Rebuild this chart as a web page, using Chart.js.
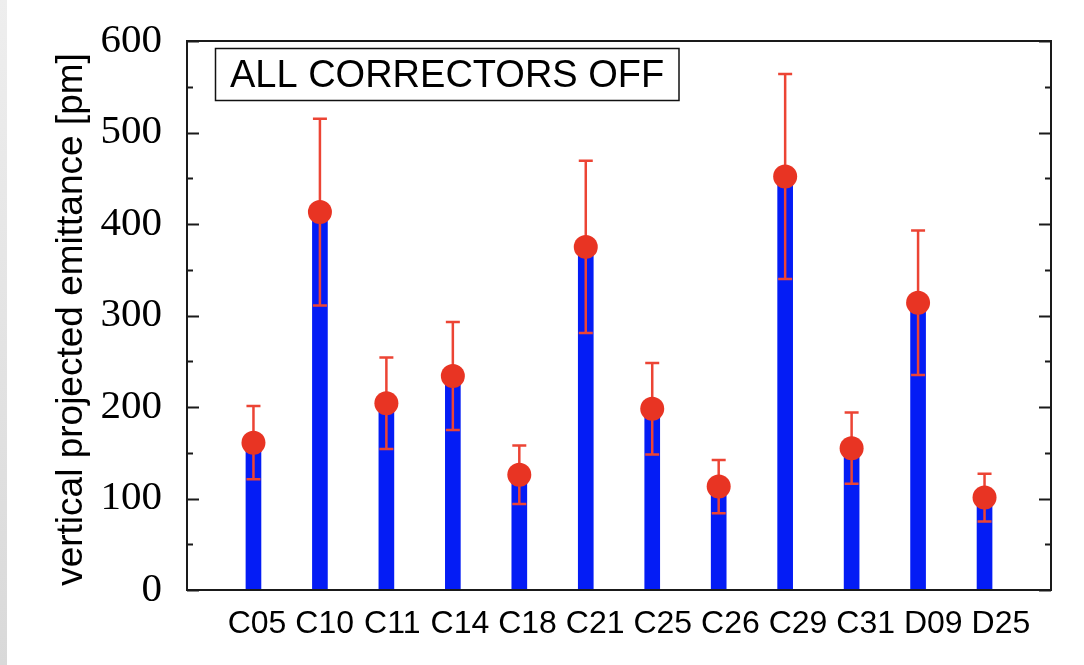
<!DOCTYPE html>
<html>
<head>
<meta charset="utf-8">
<script src="https://cdn.jsdelivr.net/npm/chart.js@4.4.0/dist/chart.umd.min.js"></script>
<style>
  html, body { margin: 0; padding: 0; background: #ffffff; }
  #wrap { position: relative; width: 1084px; height: 665px; overflow: hidden; }
  #edge { position: absolute; left: 0; top: 0; width: 7px; height: 665px;
          background: linear-gradient(#eeeeee, #d9d9d9); }
  canvas { position: absolute; left: 0; top: 0; }
</style>
</head>
<body>
<div id="wrap">
  <div id="edge"></div>
  <canvas id="chart" width="1084" height="665"></canvas>
</div>
<script>
// Monitor locations along the line
const categories = ['C05', 'C10', 'C11', 'C14', 'C18', 'C21', 'C25', 'C26', 'C29', 'C31', 'D09', 'D25'];
// Vertical projected emittance [pm] and its uncertainty
const emittance    = [161, 413, 204, 234, 126, 375, 198, 113, 452, 155, 314, 101];
const emittanceErr = [ 40, 102,  50,  59,  32,  94,  50,  29, 112,  39,  79,  26];
// Y axis ticks
const yTicks = [0, 100, 200, 300, 400, 500, 600];
const yMinorStep = 50;
const yTitle = 'vertical projected emittance [pm]';
const boxLabel = 'ALL CORRECTORS OFF';

const BAR_BLUE = 'rgb(4, 28, 245)';
const POINT_RED = 'rgb(232, 52, 35)';
const ERR_RED = 'rgb(236, 68, 52)';
const FRAME = '#1a1a1a';

const points = categories.map((_, i) => ({ x: i + 1, y: emittance[i] }));

// Error bars, drawn right after the bars so the markers sit on top
const errorBars = {
  id: 'errorBars',
  afterDatasetDraw(chart, args) {
    if (args.index !== 0) return;
    const { ctx } = chart;
    const xs = chart.scales.x, ys = chart.scales.y;
    ctx.save();
    ctx.strokeStyle = ERR_RED;
    ctx.lineWidth = 2.5;
    const cap = 7;
    categories.forEach((_, i) => {
      const px = xs.getPixelForValue(i + 1);
      const top = ys.getPixelForValue(emittance[i] + emittanceErr[i]);
      const bot = ys.getPixelForValue(emittance[i] - emittanceErr[i]);
      ctx.beginPath();
      ctx.moveTo(px, top); ctx.lineTo(px, bot);
      ctx.moveTo(px - cap, top); ctx.lineTo(px + cap, top);
      ctx.moveTo(px - cap, bot); ctx.lineTo(px + cap, bot);
      ctx.stroke();
    });
    ctx.restore();
  }
};

// Closed frame with inward ticks on the left and right sides
const frame = {
  id: 'frame',
  afterDatasetsDraw(chart) {
    const { ctx, chartArea: a } = chart;
    const ys = chart.scales.y;
    ctx.save();
    ctx.strokeStyle = FRAME;
    ctx.lineWidth = 2;
    ctx.strokeRect(a.left, a.top, a.right - a.left, a.bottom - a.top);
    ctx.beginPath();
    for (let v = ys.min; v <= ys.max; v += yMinorStep) {
      const py = Math.round(ys.getPixelForValue(v)) + 0.5;
      const len = (v % 100 === 0) ? 12 : 6;
      ctx.moveTo(a.left, py); ctx.lineTo(a.left + len, py);
      ctx.moveTo(a.right, py); ctx.lineTo(a.right - len, py);
    }
    ctx.stroke();
    ctx.restore();
  }
};

// Axis title and the boxed caption
const labels = {
  id: 'labels',
  afterDraw(chart) {
    const { ctx, chartArea: a } = chart;
    ctx.save();
    ctx.fillStyle = '#000';
    ctx.translate(82, (a.top + a.bottom) / 2 + 4);
    ctx.rotate(-Math.PI / 2);
    ctx.font = '37px "Liberation Sans", Arial, sans-serif';
    ctx.textAlign = 'center';
    ctx.textBaseline = 'alphabetic';
    ctx.fillText(yTitle, 0, 0);
    ctx.restore();

    ctx.save();
    ctx.strokeStyle = '#111';
    ctx.lineWidth = 1.5;
    ctx.strokeRect(215.5, 48.5, 463.5, 52);
    ctx.fillStyle = '#000';
    ctx.font = '38px "Liberation Sans", Arial, sans-serif';
    ctx.textAlign = 'left';
    ctx.textBaseline = 'alphabetic';
    ctx.fillText(boxLabel, 230, 86.5);
    ctx.restore();
  }
};

new Chart(document.getElementById('chart'), {
  type: 'bar',
  data: {
    datasets: [
      {
        type: 'bar',
        data: points,
        xAxisID: 'x',
        yAxisID: 'y',
        backgroundColor: BAR_BLUE,
        borderWidth: 0,
        barThickness: 15,
        order: 2
      },
      {
        type: 'scatter',
        data: points,
        xAxisID: 'x',
        yAxisID: 'y',
        pointRadius: 12,
        pointBackgroundColor: POINT_RED,
        pointBorderWidth: 0,
        showLine: false,
        order: 1
      }
    ]
  },
  options: {
    responsive: false,
    devicePixelRatio: 1,
    animation: false,
    layout: { padding: { top: 41, right: 33, bottom: 0, left: 0 } },
    plugins: { legend: { display: false }, tooltip: { enabled: false } },
    scales: {
      x: { type: 'linear', min: 0, max: 13, offset: false, display: false, grid: { offset: false } },
      xl: {
        type: 'linear',
        position: 'bottom',
        min: -0.035,
        max: 12.74,
        offset: false,
        afterBuildTicks: s => { s.ticks = categories.map((_, i) => ({ value: i + 1 })); },
        ticks: {
          callback: v => categories[v - 1] ?? '',
          font: { family: '"Liberation Sans", Arial, sans-serif', size: 32 },
          color: '#000',
          padding: 15,
          maxRotation: 0,
          autoSkip: false
        },
        grid: { display: false, drawTicks: false, offset: false },
        border: { display: false },
        afterFit: s => { s.height = 75; s.paddingLeft = 0; s.paddingRight = 0; }
      },
      y: {
        type: 'linear',
        min: 0,
        max: 600,
        afterBuildTicks: s => { s.ticks = yTicks.map(v => ({ value: v })); },
        ticks: {
          font: { family: '"Liberation Serif", "Times New Roman", serif', size: 41 },
          color: '#000',
          padding: 25
        },
        grid: { display: false, drawTicks: false },
        border: { display: false },
        afterFit: s => { s.width = 187; s.paddingTop = 0; s.paddingBottom = 0; }
      }
    }
  },
  plugins: [errorBars, frame, labels]
});
</script>
</body>
</html>
